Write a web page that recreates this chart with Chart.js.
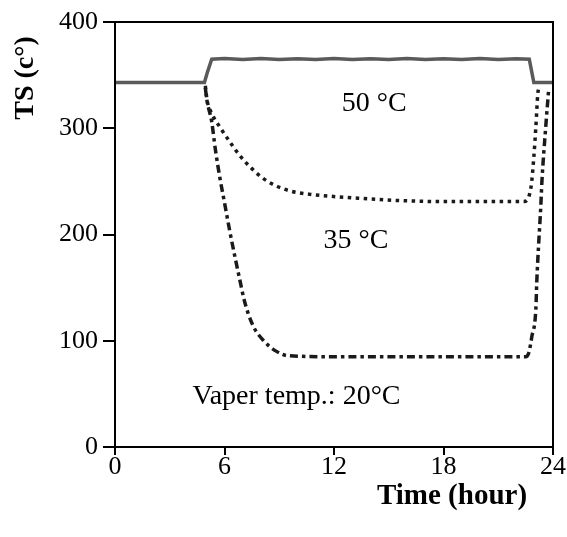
<!DOCTYPE html>
<html>
<head>
<meta charset="utf-8">
<script src="https://cdn.jsdelivr.net/npm/chart.js@4"></script>
<style>
  html, body { margin: 0; padding: 0; background: #fff; }
  #wrap { width: 567px; height: 537px; }
</style>
</head>
<body>
<div id="wrap"><canvas id="chart" width="567" height="537"></canvas></div>
<script>
// values
const xTicks = [0, 6, 12, 18, 24];
const yTicks = [0, 100, 200, 300, 400];

// 50 °C - solid gray line
const time50 = [0, 4.9, 5.05, 5.3, 6, 7, 8, 9, 10, 11, 12, 13, 14, 15, 16, 17, 18, 19, 20, 21, 22, 22.7, 22.95, 24];
const temp50 = [343, 343, 352, 365, 365.6, 364.6, 365.6, 364.8, 365.5, 364.6, 365.6, 364.7, 365.5, 364.6, 365.6, 364.7, 365.5, 364.6, 365.6, 364.7, 365.4, 365, 343, 343];

// 35 °C - dotted line
const time35 = [4.95, 5.05, 5.3, 5.75, 6.3, 6.9, 7.5, 8.1, 8.8, 9.6, 10.6, 11.8, 13.5, 15.5, 18, 20, 22.4, 22.79, 22.95, 23.06, 23.17, 23.22];
const temp35 = [340, 326, 314, 301, 287, 273, 262, 253, 246, 241, 238, 236, 234, 232, 231, 231, 231, 244, 273, 301, 333, 338];

// 20 °C - dash-dot line
const time20 = [4.95, 5.03, 5.3, 5.5, 5.74, 6.0, 6.28, 6.56, 6.83, 7.1, 7.54, 8.09, 8.85, 9.45, 12, 16, 20, 22.5, 22.68, 22.84, 23.06, 23.11, 23.22, 23.33, 23.39, 23.6, 23.77];
const temp20 = [338, 327, 306, 280, 254, 230, 204, 180, 158, 137, 115, 101, 90, 86, 85, 85, 85, 85, 89, 104, 130, 155, 193, 226, 249, 301, 338];

const labels = [
  { text: '50 °C', x: 14.2, y: 323, size: 28, align: 'center' },
  { text: '35 °C', x: 13.2, y: 194, size: 28, align: 'center' },
  { text: 'Vaper temp.: 20°C', x: 4.25, y: 47, size: 28, align: 'left' }
];

const toPoints = (xs, ys) => xs.map((x, i) => ({ x: x, y: ys[i] }));

const serif = "'Liberation Serif', 'DejaVu Serif', serif";

// frame, axis titles and in-plot labels
const extras = {
  id: 'extras',
  afterDraw(chart) {
    const ctx = chart.ctx;
    const a = chart.chartArea;
    const xs = chart.scales.x, ys = chart.scales.y;
    ctx.save();
    ctx.strokeStyle = '#000';
    ctx.lineWidth = 2;
    ctx.strokeRect(a.left, a.top, a.right - a.left, a.bottom - a.top);

    ctx.fillStyle = '#000';
    ctx.textBaseline = 'middle';
    labels.forEach(l => {
      ctx.font = l.size + 'px ' + serif;
      ctx.textAlign = l.align;
      ctx.fillText(l.text, xs.getPixelForValue(l.x), ys.getPixelForValue(l.y));
    });

    ctx.textAlign = 'center';
    ctx.font = 'bold 29px ' + serif;
    ctx.fillText('Time (hour)', 452, 497);

    ctx.translate(26, 78);
    ctx.rotate(-Math.PI / 2);
    ctx.font = 'bold 28px ' + serif;
    ctx.fillText('TS (c°)', 0, 0);
    ctx.restore();
  }
};

new Chart(document.getElementById('chart'), {
  type: 'line',
  data: {
    datasets: [
      {
        label: '50 °C',
        data: toPoints(time50, temp50),
        borderColor: '#5a5a5a',
        borderWidth: 3.5,
        pointRadius: 0,
        tension: 0
      },
      {
        label: '35 °C',
        data: toPoints(time35, temp35),
        borderColor: '#1a1a1a',
        borderWidth: 3.5,
        borderDash: [3.5, 4.5],
        pointRadius: 0,
        cubicInterpolationMode: 'monotone'
      },
      {
        label: '20 °C',
        data: toPoints(time20, temp20),
        borderColor: '#1a1a1a',
        borderWidth: 3.5,
        borderDash: [8, 4, 3.5, 4],
        pointRadius: 0,
        cubicInterpolationMode: 'monotone'
      }
    ]
  },
  options: {
    responsive: false,
    animation: false,
    layout: { padding: { top: 22, right: 14, left: 0, bottom: 0 } },
    plugins: {
      legend: { display: false },
      tooltip: { enabled: false }
    },
    scales: {
      x: {
        type: 'linear',
        min: 0,
        max: 24,
        afterFit: s => { s.height = 90; },
        afterBuildTicks: s => { s.ticks = xTicks.map(v => ({ value: v })); },
        grid: { drawOnChartArea: false, drawTicks: true, tickLength: 8, color: '#000', lineWidth: 2 },
        border: { display: true, color: '#000', width: 2 },
        ticks: { color: '#000', font: { family: serif, size: 26 }, padding: -3, maxRotation: 0 }
      },
      y: {
        min: 0,
        max: 400,
        afterFit: s => { s.width = 115; },
        afterBuildTicks: s => { s.ticks = yTicks.map(v => ({ value: v })); },
        grid: { drawOnChartArea: false, drawTicks: true, tickLength: 12, color: '#000', lineWidth: 2 },
        border: { display: true, color: '#000', width: 2 },
        ticks: { color: '#000', font: { family: serif, size: 26 }, padding: 5 }
      }
    }
  },
  plugins: [extras]
});
</script>
</body>
</html>
